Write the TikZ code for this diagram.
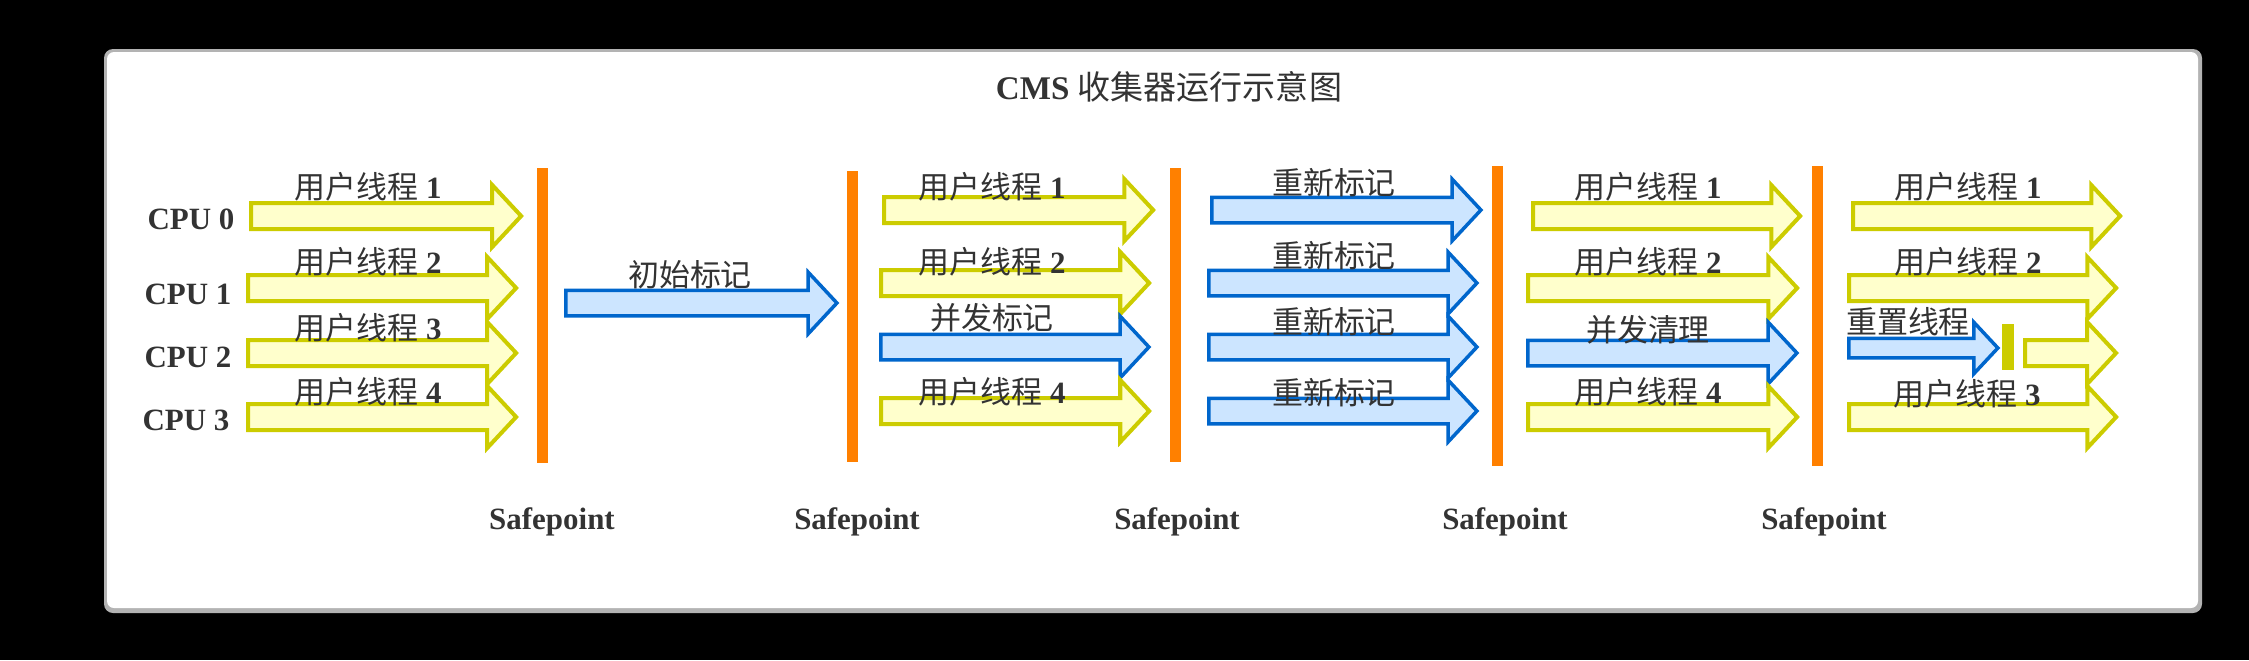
\documentclass[tikz,border=0pt]{standalone}
\usepackage{fontspec}
\setmainfont{Liberation Serif}
\newfontfamily\zhfont{Noto Sans CJK SC}
\newcommand{\zh}[1]{{\zhfont\mdseries #1}}
\usetikzlibrary{shapes.arrows}

\definecolor{threadline}{RGB}{204,204,0}
\definecolor{threadfill}{RGB}{255,255,204}
\definecolor{gcline}{RGB}{0,102,204}
\definecolor{gcfill}{RGB}{204,229,255}
\definecolor{sforange}{RGB}{255,128,0}
\definecolor{txtgray}{RGB}{51,51,51}
\definecolor{framegray}{RGB}{179,179,179}

\tikzset{
  userarrow/.style={single arrow, anchor=tail, draw=threadline, fill=threadfill,
    line width=0.04cm, inner xsep=0pt, inner ysep=0.11cm, minimum width=0.58cm,
    single arrow head extend=0.18cm, single arrow tip angle=94},
  gcarrow/.style={userarrow, draw=gcline, fill=gcfill, line width=0.035cm},
  resetarrow/.style={gcarrow, inner ysep=0.08cm, minimum width=0.48cm, single arrow head extend=0.16cm},
  sfbar/.style={draw=sforange, line width=0.11cm},
  lbl/.style={text=txtgray, inner sep=0pt, font=\fontsize{8.8pt}{10pt}\selectfont\bfseries},
  title/.style={lbl, font=\fontsize{9.4pt}{11pt}\selectfont\bfseries}
}

\begin{document}
\begin{tikzpicture}[x=0.01cm, y=-0.01cm]
  % Background and frame
  \fill[black] (0,0) rectangle (2249,660);
  \fill[framegray, rounded corners=0.09cm] (104,49) rectangle (2202,613);
  \fill[white, rounded corners=0.07cm] (107,52) rectangle (2198,608);
  \node[title] (title) at (1169,87) {CMS \zh{收集器运行示意图}};

  % CPUs
  \node[lbl] (cpu0) at (191,219) {CPU 0};
  \node[lbl] (cpu1) at (188,294) {CPU 1};
  \node[lbl] (cpu2) at (188,357) {CPU 2};
  \node[lbl] (cpu3) at (186,420) {CPU 3};

  % Safepoints
  \draw[sfbar] (542,168) -- (542,463);
  \draw[sfbar] (852,171) -- (852,462);
  \draw[sfbar] (1175,168) -- (1175,462);
  \draw[sfbar] (1497,166) -- (1497,466);
  \draw[sfbar] (1817,166) -- (1817,466);
  \node[lbl] (sf1) at (552,522) {Safepoint};
  \node[lbl] (sf2) at (857,522) {Safepoint};
  \node[lbl] (sf3) at (1177,522) {Safepoint};
  \node[lbl] (sf4) at (1505,522) {Safepoint};
  \node[lbl] (sf5) at (1824,522) {Safepoint};

  % User threads before the first safepoint
  \node[userarrow, minimum height=2.70cm] (a1) at (249,216) {};
  \node[lbl] (a1txt) at (368,187) {\zh{用户线程} 1};
  \node[userarrow, minimum height=2.68cm] (a2) at (246,288) {};
  \node[lbl] (a2txt) at (368,262) {\zh{用户线程} 2};
  \node[userarrow, minimum height=2.68cm] (a3) at (246,353) {};
  \node[lbl] (a3txt) at (368,328) {\zh{用户线程} 3};
  \node[userarrow, minimum height=2.68cm] (a4) at (246,417) {};
  \node[lbl] (a4txt) at (368,392) {\zh{用户线程} 4};

  % Initial mark
  \node[gcarrow, minimum height=2.71cm] (b1) at (564,303) {};
  \node[lbl] (b1txt) at (690,275) {\zh{初始标记}};

  % Concurrent mark
  \node[userarrow, minimum height=2.69cm] (c1) at (882,210) {};
  \node[lbl] (c1txt) at (992,187) {\zh{用户线程} 1};
  \node[userarrow, minimum height=2.68cm] (c2) at (879,283) {};
  \node[lbl] (c2txt) at (992,262) {\zh{用户线程} 2};
  \node[gcarrow, minimum height=2.68cm] (c3) at (879,347) {};
  \node[lbl] (c3txt) at (992,318) {\zh{并发标记}};
  \node[userarrow, minimum height=2.68cm] (c4) at (879,411) {};
  \node[lbl] (c4txt) at (992,392) {\zh{用户线程} 4};

  % Remark
  \node[gcarrow, minimum height=2.69cm] (d1) at (1210,210) {};
  \node[lbl] (d1txt) at (1334,183) {\zh{重新标记}};
  \node[gcarrow, minimum height=2.68cm] (d2) at (1207,283) {};
  \node[lbl] (d2txt) at (1334,256) {\zh{重新标记}};
  \node[gcarrow, minimum height=2.68cm] (d3) at (1207,347) {};
  \node[lbl] (d3txt) at (1334,322) {\zh{重新标记}};
  \node[gcarrow, minimum height=2.68cm] (d4) at (1207,411) {};
  \node[lbl] (d4txt) at (1334,393) {\zh{重新标记}};

  % Concurrent sweep
  \node[userarrow, minimum height=2.67cm] (e1) at (1531,216) {};
  \node[lbl] (e1txt) at (1648,187) {\zh{用户线程} 1};
  \node[userarrow, minimum height=2.69cm] (e2) at (1526,288) {};
  \node[lbl] (e2txt) at (1648,262) {\zh{用户线程} 2};
  \node[gcarrow, minimum height=2.69cm] (e3) at (1526,353) {};
  \node[lbl] (e3txt) at (1648,330) {\zh{并发清理}};
  \node[userarrow, minimum height=2.69cm] (e4) at (1526,417) {};
  \node[lbl] (e4txt) at (1648,392) {\zh{用户线程} 4};

  % Reset threads
  \node[userarrow, minimum height=2.67cm] (f1) at (1851,216) {};
  \node[lbl] (f1txt) at (1968,187) {\zh{用户线程} 1};
  \node[userarrow, minimum height=2.67cm] (f2) at (1847,288) {};
  \node[lbl] (f2txt) at (1968,262) {\zh{用户线程} 2};
  \node[resetarrow, minimum height=1.49cm] (f3) at (1847,348) {};
  \node[lbl] (f3txt) at (1908,322) {\zh{重置线程}};
  \draw[threadline, line width=0.12cm] (2008,324) -- (2008,370);
  \node[userarrow, minimum height=0.91cm] (f3b) at (2023,353) {};
  \node[userarrow, minimum height=2.67cm] (f4) at (1847,417) {};
  \node[lbl] (f4txt) at (1967,394) {\zh{用户线程} 3};
\end{tikzpicture}
\end{document}
